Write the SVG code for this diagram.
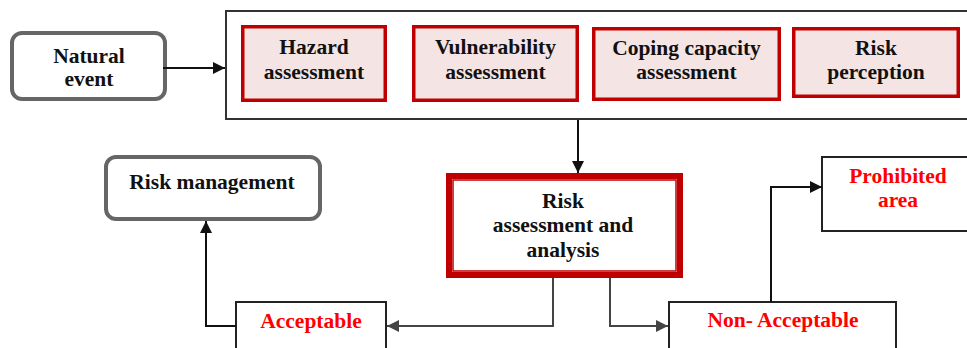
<svg xmlns="http://www.w3.org/2000/svg" width="967" height="348" viewBox="0 0 967 348">
<defs>
<style>
.t{font-family:"Liberation Serif","Times New Roman",serif;font-weight:bold;font-size:21.5px;fill:#111;text-anchor:middle}
.r{fill:#ff0000}
.rb{fill:#f5e4e4;stroke:#c00000;stroke-width:3.5}
.gb{fill:#fff;stroke:#666;stroke-width:4}
.pb{fill:#fff;stroke:#222;stroke-width:2}
.c{fill:none;stroke:#111;stroke-width:2}
.cg{fill:none;stroke:#444;stroke-width:2}
</style>
<marker id="ah" viewBox="0 0 12 12" refX="12" refY="6" markerWidth="12" markerHeight="12" markerUnits="userSpaceOnUse" orient="auto"><path d="M0,0 L12,6 L0,12 Z" fill="#111"/></marker>
<marker id="ahg" viewBox="0 0 12 12" refX="12" refY="6" markerWidth="12" markerHeight="12" markerUnits="userSpaceOnUse" orient="auto"><path d="M0,0 L12,6 L0,12 Z" fill="#444"/></marker>
</defs>
<rect width="967" height="348" fill="#fff"/>
<g id="assessment-group">
<rect x="226" y="11" width="760" height="108" fill="#fff" stroke="#333" stroke-width="2"/>
</g>
<g id="natural-event">
<rect class="gb" x="12" y="33" width="153" height="66" rx="10"/>
<text class="t" x="89" y="63">Natural</text>
<text class="t" x="89" y="86">event</text>
</g>
<g id="hazard">
<rect class="rb" x="242.75" y="26.75" width="142.5" height="73.5"/>
<text class="t" x="314" y="54">Hazard</text>
<text class="t" x="314" y="79">assessment</text>
</g>
<g id="vulnerability">
<rect class="rb" x="413.75" y="26.75" width="163.5" height="73.5"/>
<text class="t" x="495.5" y="54">Vulnerability</text>
<text class="t" x="495.5" y="79">assessment</text>
</g>
<g id="coping">
<rect class="rb" x="593.75" y="28.75" width="185.5" height="70.5"/>
<text class="t" x="686.5" y="55">Coping capacity</text>
<text class="t" x="686.5" y="79">assessment</text>
</g>
<g id="risk-perception">
<rect class="rb" x="793.75" y="28.75" width="164.5" height="67.5"/>
<text class="t" x="876" y="55">Risk</text>
<text class="t" x="876" y="79">perception</text>
</g>
<g id="risk-analysis">
<rect x="449" y="176" width="231" height="99" fill="#fff" stroke="#c00000" stroke-width="6"/>
<rect x="453" y="180" width="223" height="91" fill="none" stroke="#c00000" stroke-width="1.5"/>
<text class="t" x="563" y="208">Risk</text>
<text class="t" x="563" y="232">assessment and</text>
<text class="t" x="563" y="257">analysis</text>
</g>
<g id="risk-management">
<rect class="gb" x="106" y="157" width="214" height="62" rx="10"/>
<text class="t" x="212" y="189">Risk management</text>
</g>
<g id="acceptable">
<rect class="pb" x="236" y="302" width="150" height="60"/>
<text class="t r" x="311" y="328">Acceptable</text>
</g>
<g id="non-acceptable">
<rect class="pb" x="669" y="302" width="227" height="60"/>
<text class="t r" x="783" y="327">Non- Acceptable</text>
</g>
<g id="prohibited">
<rect class="pb" x="822" y="157" width="160" height="74"/>
<text class="t r" x="898" y="183">Prohibited</text>
<text class="t r" x="898" y="207">area</text>
</g>
<g id="connectors">
<path class="c" d="M163 68 H225" marker-end="url(#ah)"/>
<path class="c" d="M578 120 V173" marker-end="url(#ah)"/>
<path class="c" d="M236 326 H206 V221" marker-end="url(#ah)"/>
<path class="cg" d="M553 278 V326 H387" marker-end="url(#ahg)"/>
<path class="cg" d="M610 278 V326 H668" marker-end="url(#ahg)"/>
<path class="c" d="M771 302 V187 H822" marker-end="url(#ah)"/>
</g>
</svg>
